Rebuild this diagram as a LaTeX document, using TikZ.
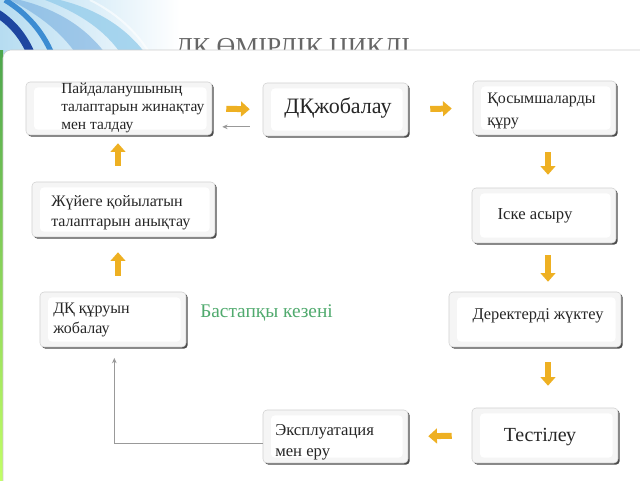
\documentclass[tikz,border=0pt]{standalone}
\usepackage{fontspec}
\setmainfont{Liberation Serif}
\usetikzlibrary{arrows.meta,shadows,calc}
\definecolor{arrowc}{RGB}{238,176,34}
\definecolor{greentxt}{RGB}{80,170,110}
\definecolor{darkblue}{RGB}{30,70,160}
\definecolor{midblue}{RGB}{60,140,210}
\definecolor{lightblue}{RGB}{150,205,235}
\begin{document}
\begin{tikzpicture}[x=0.75pt,y=-0.75pt,
  box/.style={rectangle, rounded corners=3pt, draw=black!18, fill=black!4,
    drop shadow={shadow xshift=1.3pt, shadow yshift=-1.3pt, fill=black!70, opacity=1}, inner sep=0pt,
    path picture={\fill[white] ([shift={(6pt,-4pt)}]path picture bounding box.north west) rectangle ([shift={(-4pt,4pt)}]path picture bounding box.south east);}},
  txt/.style={font=\fontsize{12}{15}\selectfont, text=black!85, inner sep=0pt, align=left},
  yarrow/.style={draw=arrowc, line width=4.5pt, -{Triangle[length=6.5pt,width=11pt]}},
  garrow/.style={draw=black!40, line width=0.6pt, -{Stealth[length=4pt,width=3.5pt]}}]
\useasboundingbox (0,0) rectangle (640,480);
\clip (0,0) rectangle (640,480);
% background decoration
\fill[white] (0,0) rectangle (640,480);
\begin{scope}
  \clip (0,0) rectangle (180,60);
  \shade[left color=lightblue!70, right color=white] (0,0) rectangle (180,60);
  \fill[midblue!70, opacity=0.6] (20,0) .. controls (60,10) and (90,30) .. (110,60) -- (80,60) .. controls (65,35) and (40,15) .. (10,0) -- cycle;
  \fill[lightblue, opacity=0.8] (60,0) .. controls (100,10) and (130,30) .. (150,60) -- (125,60) .. controls (110,35) and (85,15) .. (45,0) -- cycle;
  \draw[darkblue, line width=6pt] (-5,12) .. controls (12,22) and (26,38) .. (34,62);
  \draw[midblue, line width=4pt] (5,0) .. controls (25,12) and (45,32) .. (55,62);
  \draw[white, opacity=0.6, line width=1.5pt] (90,0) .. controls (120,15) and (140,35) .. (155,62);
\end{scope}
\shade[top color=green!50!black!70, bottom color=yellow!60!green!60] (0,50) rectangle (3,480);
% title (partly hidden by the card)
\node[anchor=base west, inner sep=0pt, text=black!60, font=\fontsize{19.4}{22}\selectfont] (title) at (175,55) {ДҚ ӨМІРЛІК ЦИКЛІ};
% card
\draw[draw=black!20, fill=white, rounded corners=6pt] (3,50) rectangle (700,520);
% boxes
\node[box, minimum width=139.5pt, minimum height=39.75pt] (b1) at (119,108.5) {};
\node[box, minimum width=108.75pt, minimum height=39.75pt] (b2) at (335.5,109.5) {};
\node[box, minimum width=107.25pt, minimum height=40.5pt] (b3) at (544.5,108) {};
\node[box, minimum width=137.25pt, minimum height=41.25pt] (b4) at (123.5,209.5) {};
\node[box, minimum width=108pt, minimum height=41.25pt] (b5) at (544,215.5) {};
\node[box, minimum width=109.5pt, minimum height=41.25pt] (b6) at (113,319.5) {};
\node[box, minimum width=129pt, minimum height=41.25pt] (b7) at (535,319.5) {};
\node[box, minimum width=108.75pt, minimum height=39.75pt] (b8) at (335.5,436.5) {};
\node[box, minimum width=109.5pt, minimum height=41.25pt] (b9) at (545,435.5) {};
% texts
\node[txt, anchor=west, font=\fontsize{11.6}{13.5}\selectfont] (t1) at (61,108) {Пайдаланушының\\талаптарын жинақтау\\мен талдау};
\node[txt, font=\fontsize{16.5}{18}\selectfont] (t2) at (338,108) {ДҚжобалау};
\node[txt, anchor=west, font=\fontsize{12}{17}\selectfont] (t3) at (487,111) {Қосымшаларды\\құру};
\node[txt, anchor=west] (t4) at (51,213) {Жүйеге қойылатын\\талаптарын анықтау};
\node[txt, font=\fontsize{12.5}{15}\selectfont] (t5) at (535,216) {Іске асыру};
\node[txt, anchor=west] (t6) at (53,320) {ДҚ құруын\\жобалау};
\node[txt, font=\fontsize{12.3}{15}\selectfont] (t7) at (538,316) {Деректерді жүктеу};
\node[txt, anchor=west, font=\fontsize{12.5}{15.5}\selectfont] (t8) at (275,442) {Эксплуатация\\мен еру};
\node[txt, font=\fontsize{15}{17}\selectfont] (t9) at (540,437) {Тестілеу};
\node[txt, anchor=west, text=greentxt, font=\fontsize{14.5}{17}\selectfont] (green) at (200,313) {Бастапқы кезені};
% helper coordinates
\coordinate (colL) at (118,0);
\coordinate (colR) at (548,0);
% yellow flow arrows
\draw[yarrow, shorten <=10.5pt, shorten >=9.75pt] (b1.east) -- (b2.west);
\draw[yarrow, shorten <=16.5pt, shorten >=15.75pt] (b2.east) -- (b3.west);
\draw[yarrow, shorten <=12.75pt, shorten >=9.75pt] (b3.south -| colR) -- (b5.north -| colR);
\draw[yarrow, shorten <=9pt, shorten >=7.5pt] (b5.south -| colR) -- (b7.north -| colR);
\draw[yarrow, shorten <=11.25pt, shorten >=16.5pt] (b7.south -| colR) -- (b9.north -| colR);
\draw[yarrow, shorten <=15pt, shorten >=15pt] (b9.west) -- (b8.east);
\draw[yarrow, shorten <=12pt, shorten >=11.25pt] (b6.north -| colL) -- (b4.south -| colL);
\draw[yarrow, shorten <=12pt, shorten >=6pt] (b4.north -| colL) -- (b1.south -| colL);
% thin grey arrows
\draw[garrow, shorten <=9.75pt, shorten >=7.5pt] ([yshift=-13pt]b2.west) -- ([yshift=-13.75pt]b1.east);
\draw[garrow, shorten >=8pt] ([yshift=-5pt]b8.west) -| ([xshift=1pt]b6.south);
\end{tikzpicture}
\end{document}
